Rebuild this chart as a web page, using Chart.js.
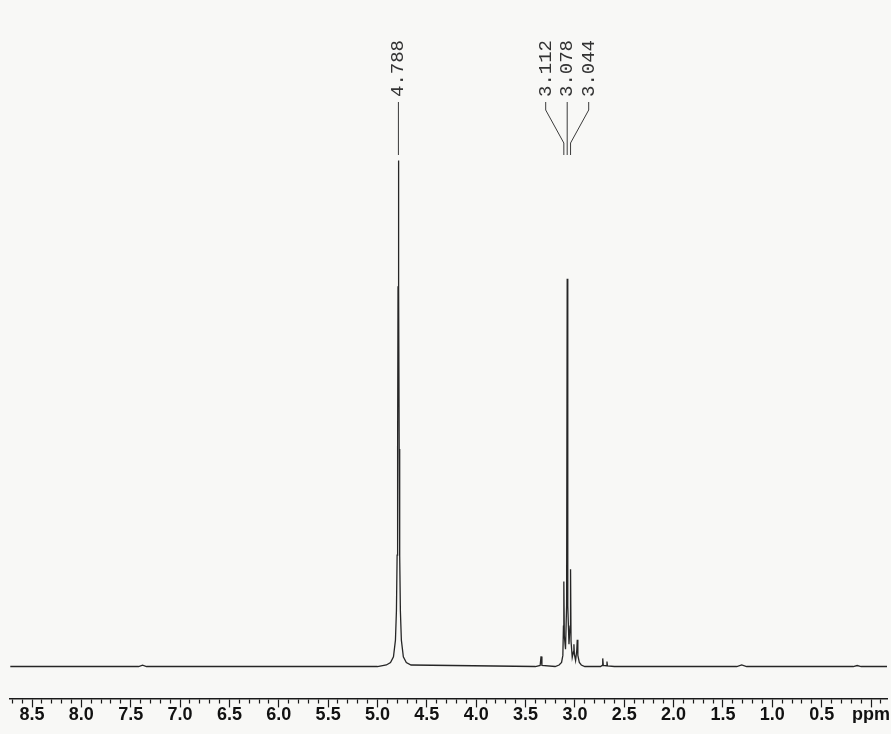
<!DOCTYPE html>
<html>
<head>
<meta charset="utf-8">
<script src="https://cdn.jsdelivr.net/npm/chart.js@4/dist/chart.umd.min.js"></script>
<style>
html,body{margin:0;padding:0;background:#f8f8f6;}
#wrap{width:891px;height:734px;position:relative;}
</style>
</head>
<body>
<div id="wrap"><canvas id="c" width="891" height="734"></canvas></div>
<script>
// Chemical shift (ppm) of each spectrum point
const shiftPpm = [
  8.72, 7.42, 7.38, 7.34,
  5.00, 4.91, 4.868, 4.838, 4.818, 4.808, 4.801, 4.796, 4.792, 4.788,
  4.784, 4.780, 4.775, 4.768, 4.758, 4.738, 4.708, 4.66,
  3.40, 3.352, 3.343, 3.334,
  3.20, 3.16, 3.135, 3.122, 3.116, 3.112, 3.107, 3.095, 3.084, 3.078, 3.072,
  3.060, 3.049, 3.044, 3.039, 3.027, 3.014, 3.010, 3.005, 2.993, 2.981, 2.976,
  2.970, 2.955, 2.935, 2.90,
  2.74, 2.724, 2.718, 2.712, 2.680, 2.675, 2.670, 2.60,
  1.36, 1.31, 1.26,
  0.18, 0.14, 0.10, -0.17
];
// Relative intensity at each point (tallest peak = 100)
const intensity = [
  0, 0, 0.25, 0,
  0, 0.3, 0.8, 1.9, 5.2, 11, 22, 43, 75, 100,
  75, 43, 22, 11, 5.2, 1.9, 0.8, 0.3,
  0, 0.2, 2.0, 0.2,
  0, 0.3, 0.8, 2.2, 8, 16.8, 6, 3.4, 12, 76.6, 12,
  4.4, 8, 19.2, 5, 1.8, 3, 4.4, 2.4, 1.2, 3.2, 5.3,
  2.2, 0.8, 0.3, 0,
  0, 0.2, 1.6, 0.2, 0.15, 1.0, 0.1, 0,
  0, 0.3, 0,
  0, 0.2, 0, 0
];
// Peak-pick labels
const peakLabelPpm = [4.788, 3.112, 3.078, 3.044];
const peakLabelText = ['4.788', '3.112', '3.078', '3.044'];

const points = shiftPpm.map((x, i) => ({x: x, y: intensity[i]}));

const isMajor = v => Math.abs(v * 2 - Math.round(v * 2)) < 1e-6;

const peakLabelPlugin = {
  id: 'peakLabels',
  afterDatasetsDraw(chart) {
    const xs = chart.scales.x;
    const ctx = chart.ctx;
    const items = peakLabelPpm.map((p, i) => ({px: xs.getPixelForValue(p), text: peakLabelText[i]}))
      .sort((a, b) => a.px - b.px);
    // cluster close peaks
    const groups = [];
    items.forEach(it => {
      const g = groups[groups.length - 1];
      if (g && it.px - g[g.length - 1].px < 20) g.push(it); else groups.push([it]);
    });
    const spacing = 21.5;
    const textBottom = 97, lineTop = 102, bendTop = 110, bendBottom = 143, lineBottom = 155;
    ctx.save();
    ctx.strokeStyle = '#3a3a3a';
    ctx.lineWidth = 1;
    ctx.fillStyle = '#333';
    ctx.font = '19px "Liberation Mono", "DejaVu Sans Mono", monospace';
    groups.forEach(g => {
      const mean = g.reduce((s, it) => s + it.px, 0) / g.length;
      g.forEach((it, i) => {
        const sx = g.length === 1 ? it.px : mean + (i - (g.length - 1) / 2) * spacing;
        ctx.beginPath();
        ctx.moveTo(sx, lineTop);
        ctx.lineTo(sx, bendTop);
        ctx.lineTo(it.px, bendBottom);
        ctx.lineTo(it.px, lineBottom);
        ctx.stroke();
        ctx.save();
        ctx.translate(sx, textBottom);
        ctx.rotate(-Math.PI / 2);
        ctx.textAlign = 'left';
        ctx.textBaseline = 'middle';
        ctx.fillText(it.text, 0, 0);
        ctx.restore();
      });
    });
    ctx.restore();
  }
};

new Chart(document.getElementById('c'), {
  type: 'line',
  data: {
    datasets: [{
      data: points,
      borderColor: '#262626',
      borderWidth: 1.3,
      pointRadius: 0,
      tension: 0,
      fill: false
    }]
  },
  options: {
    responsive: false,
    animation: false,
    devicePixelRatio: 1,
    layout: {padding: {left: 10, right: 4, top: 0, bottom: 11}},
    plugins: {legend: {display: false}, tooltip: {enabled: false}},
    scales: {
      x: {
        type: 'linear',
        reverse: true,
        min: -0.162,
        max: 8.723,
        grid: {
          drawOnChartArea: false,
          drawTicks: true,
          tickLength: 9,
          tickColor: '#1a1a1a',
          tickWidth: 1.2,
          tickBorderDash: ctx => isMajor(ctx.tick.value) ? [] : [4, 20]
        },
        border: {display: true, color: '#1a1a1a', width: 1.5},
        ticks: {
          stepSize: 0.1,
          includeBounds: false,
          autoSkip: false,
          maxRotation: 0,
          minRotation: 0,
          padding: -3,
          color: '#111',
          font: {family: '"Liberation Sans", Arial, sans-serif', size: 18, weight: 'bold'},
          callback: v => {
            if (!isMajor(v)) return '';
            if (Math.abs(v) < 1e-6) return 'ppm';
            return v.toFixed(1);
          }
        }
      },
      y: {
        display: false,
        min: -6.3,
        max: 131.7
      }
    }
  },
  plugins: [peakLabelPlugin]
});
</script>
</body>
</html>
